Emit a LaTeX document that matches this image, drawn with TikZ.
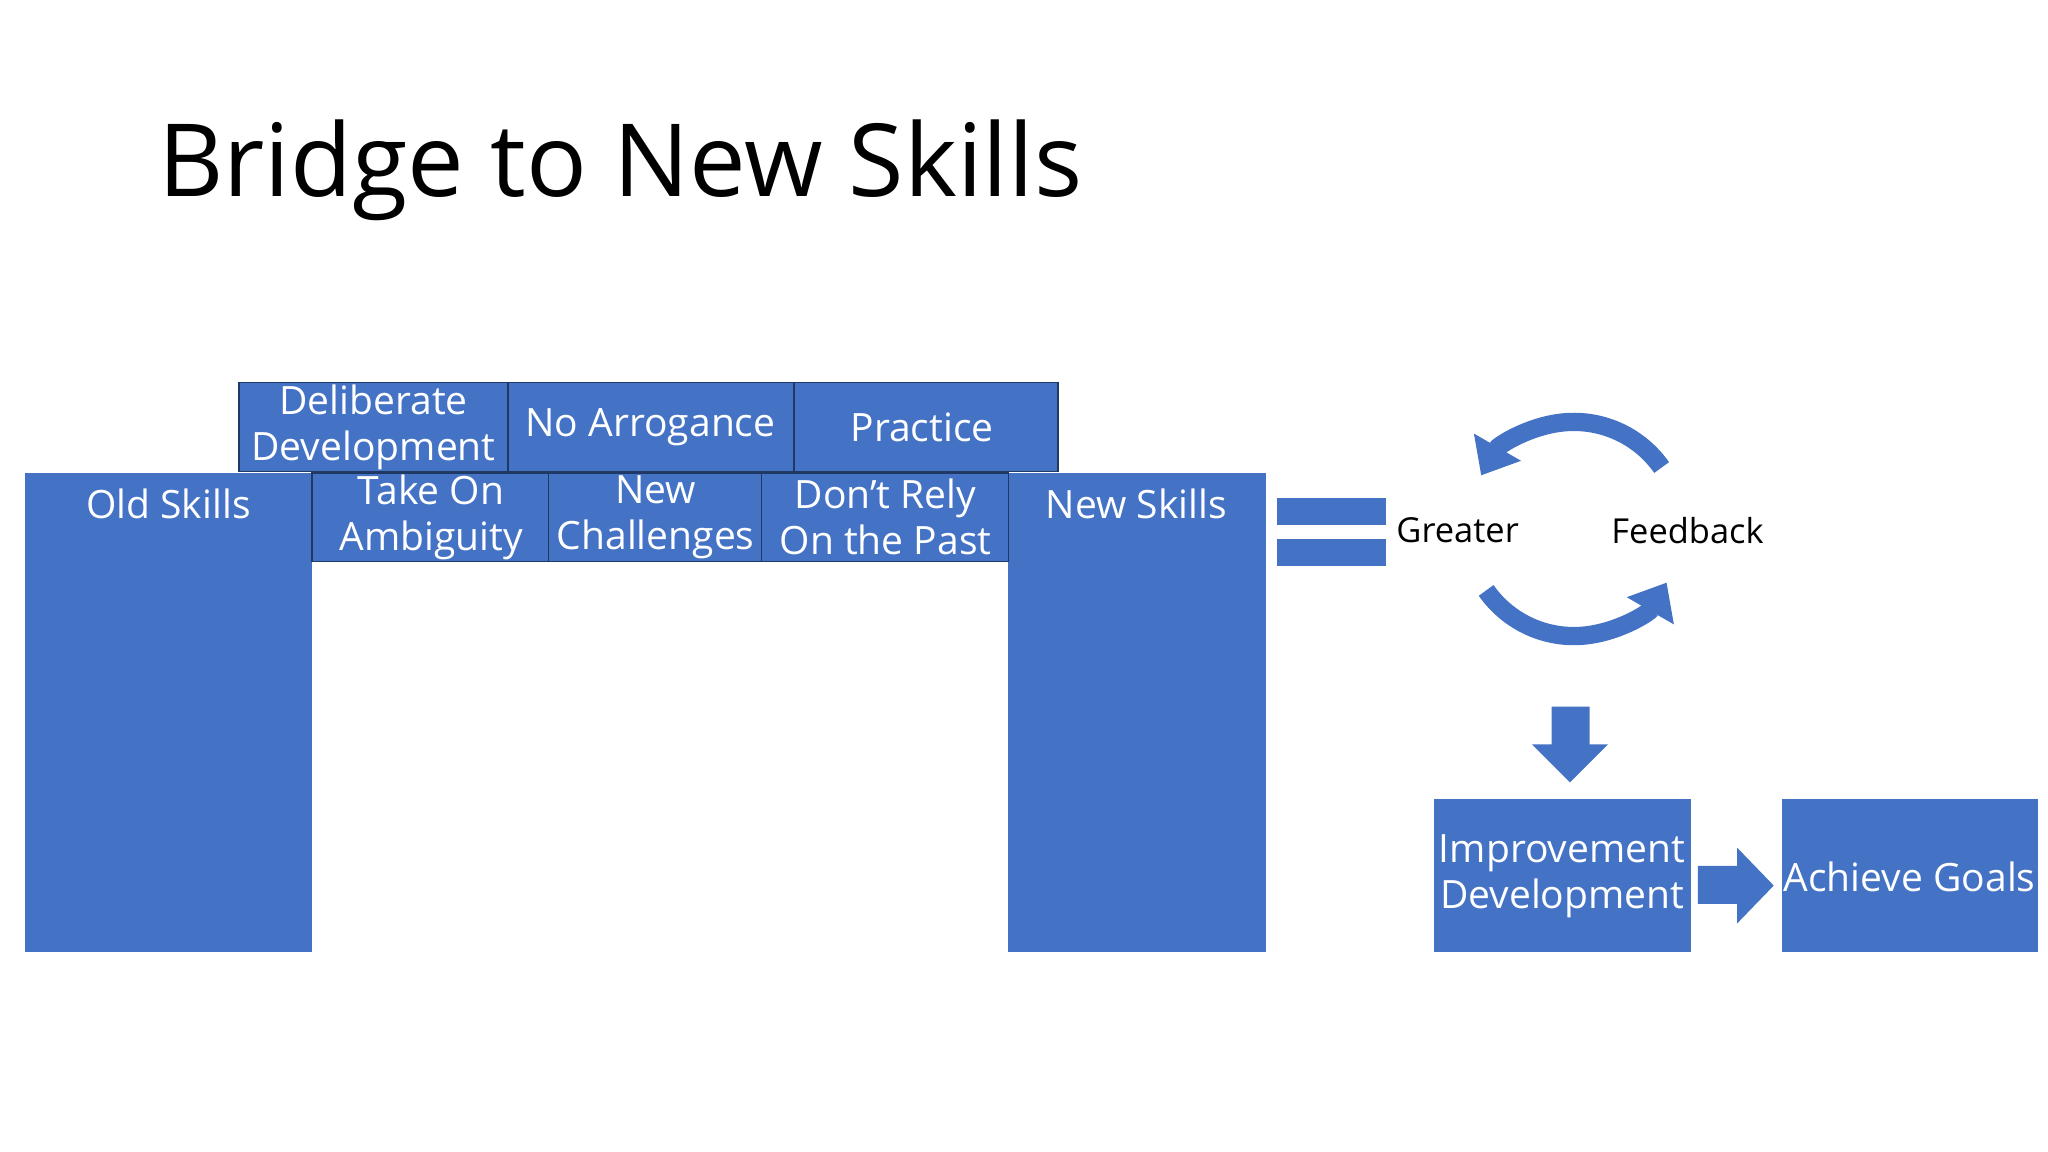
\documentclass[tikz,border=0pt]{standalone}
\usepackage{fontspec}
\setmainfont{Open Sans}
\usetikzlibrary{arrows.meta}
\definecolor{bl}{HTML}{4472C4}
\definecolor{nv}{HTML}{203864}
\begin{document}
\begin{tikzpicture}[x=0.02cm,y=-0.02cm,
  blk/.style={fill=bl,draw=nv,line width=0.6pt,text=white,align=center,font=\fontsize{17}{20}\selectfont},
  pil/.style={fill=bl,draw=none},
  ptxt/.style={text=white,font=\fontsize{17}{20}\selectfont},
  lbl/.style={font=\fontsize{15}{18}\selectfont}]
\useasboundingbox (0,0) rectangle (1568,882);
\node[anchor=west,font=\fontsize{44}{50}\selectfont] (title) at (115,130) {Bridge to New Skills};
% pillars
\fill[bl] (19,362) rectangle (239,729);
\fill[bl] (772,362) rectangle (969,729);
\node[ptxt] (old) at (129,386) {Old Skills};
\node[ptxt] (new) at (870,386) {New Skills};
% top row
\path[blk] (183,293) rectangle (389,361); \node[blk,draw=none,fill=none] (dd) at (286,327) {Deliberate\\Development};
\path[blk] (389,293) rectangle (608,361); \node[blk,draw=none,fill=none] (na) at (498,327) {No Arrogance};
\path[blk] (608,293) rectangle (810,361); \node[blk,draw=none,fill=none] (pr) at (706,327) {Practice};
% second row
\path[blk] (239,362) rectangle (420,430); \node[blk,draw=none,fill=none] (ta) at (330,396) {Take On\\Ambiguity};
\path[blk] (420,362) rectangle (583,430); \node[blk,draw=none,fill=none] (nc) at (502,396) {New\\Challenges};
\path[blk] (583,362) rectangle (772,430); \node[blk,draw=none,fill=none] (dr) at (678,396) {Don’t Rely\\On the Past};
% equals
\fill[bl] (978,381) rectangle (1061,402);
\fill[bl] (978,413) rectangle (1061,433);
\node[lbl] (gr) at (1116,406) {Greater};
\node[lbl] (fb) at (1292,406) {Feedback};
% cycle arrows
\draw[bl,line width=0.28cm,-{Triangle[length=0.5cm,width=0.8cm]}] (1205,405) ++(145:82) arc[start angle=145,end angle=30,radius=82];
\draw[bl,line width=0.28cm,-{Triangle[length=0.5cm,width=0.8cm]}] (1205,405) ++(-35:82) arc[start angle=-35,end angle=-150,radius=82];
% down arrow
\fill[bl] (1188,541) -- (1217,541) -- (1217,570) -- (1231,570) -- (1202,599) -- (1173,570) -- (1188,570) -- cycle;
% bottom boxes
\fill[bl] (1098,612) rectangle (1295,729);
\node[ptxt,align=center] (imp) at (1196,671) {Improvement\\Development};
\fill[bl] (1364,612) rectangle (1560,729);
\node[ptxt] (ach) at (1462,671) {Achieve Goals};
\fill[bl] (1300,663) -- (1330,663) -- (1330,649) -- (1358,678) -- (1330,707) -- (1330,692) -- (1300,692) -- cycle;
\end{tikzpicture}
\end{document}
